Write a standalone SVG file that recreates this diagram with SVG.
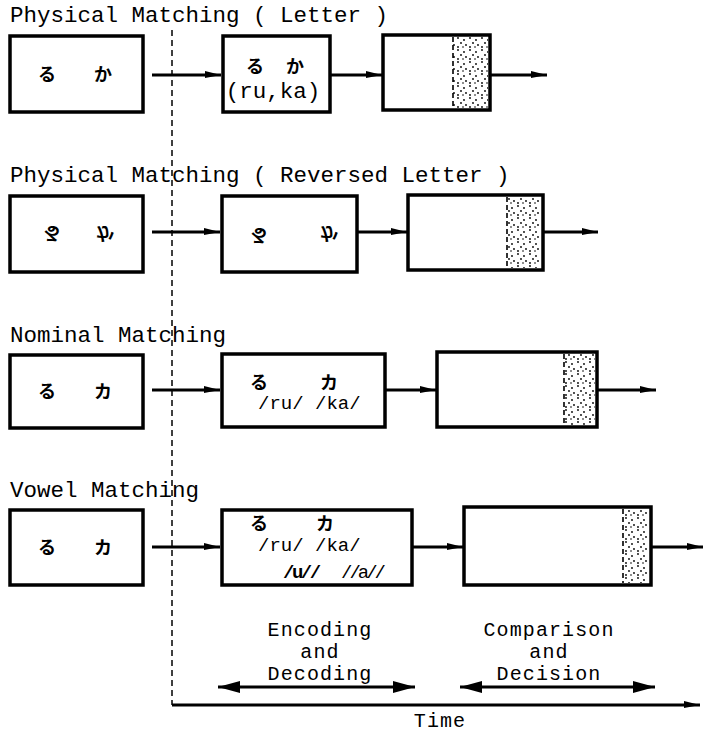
<svg xmlns="http://www.w3.org/2000/svg" width="703" height="733" viewBox="0 0 703 733">
<style>
.title{font-family:"Liberation Mono","Courier New",monospace;font-size:22.5px;fill:#000}
.lbl{font-family:"Liberation Mono","Courier New",monospace;font-size:20px;letter-spacing:1.1px;fill:#000}
.ph{font-family:"Liberation Mono","Courier New",monospace;font-size:19px;fill:#000}
.jp{font-family:"Noto Sans CJK JP","Noto Sans CJK SC",sans-serif;font-size:18px;font-weight:bold;fill:#000}
.box{fill:#fff;stroke:#000;stroke-width:3.5}
.st{fill:url(#dots);stroke:none}
.stl{stroke:#000;stroke-width:1.6;stroke-dasharray:5,3}
.arr{stroke:#000;stroke-width:2.8;fill:none;marker-end:url(#ah)}
.darr{stroke:#000;stroke-width:3;fill:none;marker-end:url(#ah2);marker-start:url(#ah2s)}
</style>
<defs>
<pattern id="dots" width="12" height="12" patternUnits="userSpaceOnUse">
<rect width="12" height="12" fill="#fff"/>
<circle cx="2" cy="2" r="0.9" fill="#000"/>
<circle cx="8" cy="4" r="0.9" fill="#000"/>
<circle cx="5" cy="7" r="0.9" fill="#000"/>
<circle cx="10" cy="9" r="0.9" fill="#000"/>
<circle cx="2" cy="11" r="0.9" fill="#000"/>
<circle cx="7" cy="11" r="0.8" fill="#000"/>
</pattern>
<marker id="ah" markerUnits="userSpaceOnUse" markerWidth="18" markerHeight="10" refX="16" refY="5" orient="auto">
<path d="M0,1 L16,5 L0,8 z" fill="#000"/>
</marker>
<marker id="ah2" markerUnits="userSpaceOnUse" markerWidth="24" markerHeight="14" refX="22" refY="7" orient="auto">
<path d="M0,1 L22,7 L0,13 z" fill="#000"/>
</marker>
<marker id="ah2s" markerUnits="userSpaceOnUse" markerWidth="24" markerHeight="14" refX="0" refY="7" orient="auto">
<path d="M22,1 L0,7 L22,13 z" fill="#000"/>
</marker>
</defs>

<text class="title" x="10" y="22">Physical Matching ( Letter )</text>
<text class="title" x="10" y="182">Physical Matching ( Reversed Letter )</text>
<text class="title" x="10" y="342">Nominal Matching</text>
<text class="title" x="10" y="497">Vowel Matching</text>

<line x1="172" y1="30" x2="172" y2="705" stroke="#000" stroke-width="1.5" stroke-dasharray="6,4"/>

<g id="connectors">
<line class="arr" x1="152" y1="75" x2="221" y2="75"/>
<line class="arr" x1="330" y1="75" x2="382" y2="75"/>
<line class="arr" x1="490" y1="75" x2="547" y2="75"/>
<line class="arr" x1="152" y1="232" x2="220" y2="232"/>
<line class="arr" x1="357" y1="232" x2="407" y2="232"/>
<line class="arr" x1="543" y1="232" x2="598" y2="232"/>
<line class="arr" x1="152" y1="390" x2="220" y2="390"/>
<line class="arr" x1="385" y1="390" x2="436" y2="390"/>
<line class="arr" x1="597" y1="390" x2="656" y2="390"/>
<line class="arr" x1="152" y1="547" x2="220" y2="547"/>
<line class="arr" x1="412" y1="547" x2="463" y2="547"/>
<line class="arr" x1="651" y1="547" x2="703" y2="547"/>
<line class="darr" x1="218" y1="687" x2="415" y2="687"/>
<line class="darr" x1="460" y1="687" x2="655" y2="687"/>
<line stroke="#000" stroke-width="3" x1="172" y1="705" x2="700" y2="705" marker-end="url(#ah)"/>
</g>

<g id="r1b1"><rect class="box" x="10" y="36" width="133" height="76"/>
<text class="jp" x="47" y="81" text-anchor="middle">る</text><text class="jp" x="103" y="81" text-anchor="middle">か</text></g>
<g id="r1b2"><rect class="box" x="223" y="36" width="107" height="76"/>
<text class="jp" x="255" y="73" text-anchor="middle">る</text><text class="jp" x="295" y="73" text-anchor="middle">か</text>
<text class="title" x="273" y="98" text-anchor="middle">(ru,ka)</text></g>
<g id="r1b3"><rect class="box" x="383" y="35" width="107" height="75"/>
<rect class="st" x="453" y="37" width="35" height="71"/><line class="stl" x1="453" y1="37" x2="453" y2="108"/></g>

<g id="r2b1"><rect class="box" x="10" y="196" width="133" height="76"/>
<text class="jp" transform="translate(52,233) scale(1,-1)" y="6" text-anchor="middle">る</text>
<text class="jp" transform="translate(105,233) scale(1,-1)" y="6" text-anchor="middle">か</text></g>
<g id="r2b2"><rect class="box" x="222" y="196" width="135" height="76"/>
<text class="jp" transform="translate(259,235) scale(1,-1)" y="6" text-anchor="middle">る</text>
<text class="jp" transform="translate(329,233) scale(1,-1)" y="6" text-anchor="middle">か</text></g>
<g id="r2b3"><rect class="box" x="408" y="195" width="135" height="75"/>
<rect class="st" x="507" y="197" width="34" height="71"/><line class="stl" x1="507" y1="197" x2="507" y2="268"/></g>

<g id="r3b1"><rect class="box" x="10" y="355" width="133" height="73"/>
<text class="jp" x="47" y="398" text-anchor="middle">る</text><text class="jp" x="103" y="398" text-anchor="middle">カ</text></g>
<g id="r3b2"><rect class="box" x="222" y="354" width="163" height="73"/>
<text class="jp" x="259" y="389" text-anchor="middle">る</text><text class="jp" x="329" y="389" text-anchor="middle">カ</text>
<text class="ph" x="258" y="409">/ru/  /ka/</text></g>
<g id="r3b3"><rect class="box" x="437" y="352" width="160" height="75"/>
<rect class="st" x="564" y="354" width="31" height="71"/><line class="stl" x1="564" y1="354" x2="564" y2="425"/></g>

<g id="r4b1"><rect class="box" x="10" y="510" width="133" height="75"/>
<text class="jp" x="47" y="554" text-anchor="middle">る</text><text class="jp" x="103" y="554" text-anchor="middle">カ</text></g>
<g id="r4b2"><rect class="box" x="222" y="510" width="190" height="75"/>
<text class="jp" x="259" y="530" text-anchor="middle">る</text><text class="jp" x="325" y="530" text-anchor="middle">カ</text>
<text class="ph" x="258" y="551">/ru/  /ka/</text>
<text class="ph" x="283" y="578" font-size="18" font-weight="bold" letter-spacing="-2.5">/u//</text>
<text class="ph" x="341" y="578" font-size="18" letter-spacing="-3">//a//</text></g>
<g id="r4b3"><rect class="box" x="464" y="507" width="187" height="78"/>
<rect class="st" x="623" y="509" width="26" height="74"/><line class="stl" x1="623" y1="509" x2="623" y2="583"/></g>

<g id="labels">
<text class="lbl" x="320" y="636" text-anchor="middle">Encoding</text>
<text class="lbl" x="320" y="658" text-anchor="middle">and</text>
<text class="lbl" x="320" y="680" text-anchor="middle">Decoding</text>
<text class="lbl" x="549" y="636" text-anchor="middle">Comparison</text>
<text class="lbl" x="549" y="658" text-anchor="middle">and</text>
<text class="lbl" x="549" y="680" text-anchor="middle">Decision</text>
<text class="lbl" x="440" y="727" text-anchor="middle">Time</text>
</g>
</svg>
